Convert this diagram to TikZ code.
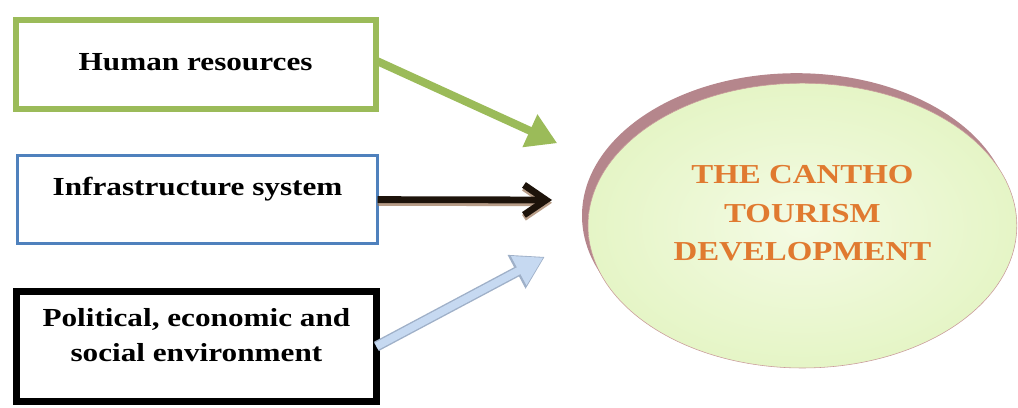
\documentclass[tikz,border=0pt]{standalone}
\usepackage{fontspec}
\setmainfont{Liberation Serif}
\newfontfamily\wideserif[FakeStretch=1.2]{Liberation Serif}
\usetikzlibrary{arrows.meta, shapes.geometric, shadows}

\definecolor{hrgreen}{HTML}{9BBB59}
\definecolor{infblue}{HTML}{4F81BD}
\definecolor{envblue}{HTML}{C6D9F1}
\definecolor{envedge}{HTML}{9FB0C8}
\definecolor{barbshade}{HTML}{9A7455}
\definecolor{mauve}{HTML}{B5868C}
\definecolor{rim}{HTML}{C99A9A}
\definecolor{goaltext}{HTML}{E07A30}
\definecolor{goalin}{HTML}{F4FBE4}
\definecolor{goalout}{HTML}{E5F5C6}

\begin{document}
\begin{tikzpicture}[% styles used in image code
         > = Straight Barb, % defined in "arrows.meta
box/.style = {draw, rectangle, minimum width=9cm,
              inner sep=0pt, outer sep=0pt, node contents={}},
tag/.style = {align=center, inner sep=0pt,
              font=\wideserif\bfseries\fontsize{18.5}{24.9}\selectfont},
goal/.style = {ellipse, draw=rim, thin,
               inner color=goalin, outer color=goalout,
               minimum width=10.72cm, minimum height=7.12cm,
               drop shadow={shadow xshift=-0.15cm, shadow yshift=0.25cm,
                            fill=mauve, opacity=1},
               node contents={}},
link/.style = {line width=#1}
                        ]
	\useasboundingbox (0,0) rectangle (25.45,-10.2);

	% the three factor boxes
	\node (hr)    at (4.89,-1.61) [box, draw=hrgreen, line width=0.15cm, minimum height=2.225cm];
	\node (infra) at (4.94,-4.99) [box, draw=infblue, line width=0.075cm, minimum height=2.2cm];
	\node (env)   at (4.91,-8.66) [box, draw=black, line width=0.17cm, minimum height=2.75cm];

	\node[tag] (hrtxt)    at ([yshift=0.06cm]hr.center) {Human resources};
	\node[tag] (infratxt) at ([yshift=0.27cm]infra.center) {Infrastructure system};
	\node[tag] (envtxt)   at ([yshift=0.29cm]env.center) {Political, economic and\\social environment};

	% the goal
	\node (dev) at (20.06,-5.64) [goal];
	\node[tag, text=goaltext, font=\wideserif\bfseries\fontsize{19.5}{27.4}\selectfont]
	      (devtxt) at ([yshift=0.31cm]dev.center) {THE CANTHO\\TOURISM\\DEVELOPMENT};

	% arrow tips in front of the ellipse
	\coordinate (tipA) at (13.93,-3.58);
	\coordinate (tipB) at (13.80,-5.00);
	\coordinate (tipC) at (13.62,-6.42);

	\draw[link=0.2cm, hrgreen, -{Triangle[length=0.75cm, width=0.85cm]}] ([yshift=0.1cm]hr.east) -- (tipA);

	\draw[link=0.17cm, barbshade, opacity=0.7, transform canvas={yshift=-0.07cm},
	      -{Straight Barb[length=0.55cm, width=0.75cm]}] (infra.east) -- (tipB);
	\draw[link=0.17cm, black!85!brown, -{Straight Barb[length=0.55cm, width=0.75cm]}] (infra.east) -- (tipB);

	\draw[link=0.26cm, envedge, -{Triangle[length=0.8cm, width=0.9cm]}] (env.east) -- (tipC);
	\draw[link=0.19cm, envblue, shorten >=0.04cm,
	      -{Triangle[length=0.7cm, width=0.78cm]}] (env.east) -- (tipC);
\end{tikzpicture}
\end{document}
